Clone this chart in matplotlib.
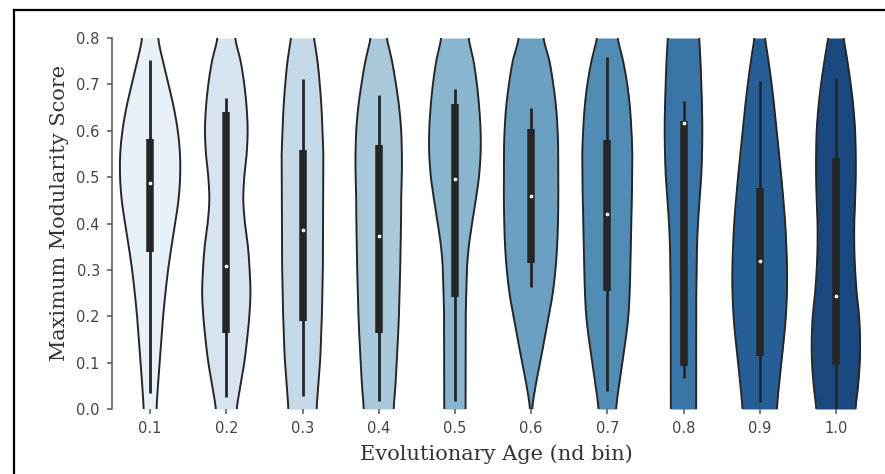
import colorsys
import numpy as np
import matplotlib
matplotlib.use("Agg")
import matplotlib.pyplot as plt
from matplotlib.lines import Line2D

# Age bins and the score levels at which the violin widths were read
age_bins = ["0.1", "0.2", "0.3", "0.4", "0.5", "0.6", "0.7", "0.8", "0.9", "1.0"]
levels = [0.0, 0.05, 0.1, 0.15, 0.2, 0.25, 0.3, 0.35, 0.4,
          0.45, 0.5, 0.55, 0.6, 0.65, 0.7, 0.75, 0.8]

# half-widths of each violin (in units of one category slot) at each level
half_widths = [
    [0.085, 0.103, 0.125, 0.147, 0.171, 0.201, 0.236, 0.280, 0.328, 0.372, 0.394, 0.392, 0.363, 0.311, 0.241, 0.168, 0.107],
    [0.138, 0.186, 0.236, 0.273, 0.302, 0.317, 0.306, 0.284, 0.245, 0.223, 0.236, 0.267, 0.280, 0.267, 0.236, 0.188, 0.118],
    [0.186, 0.208, 0.230, 0.243, 0.254, 0.260, 0.267, 0.267, 0.269, 0.271, 0.273, 0.273, 0.262, 0.249, 0.227, 0.197, 0.153],
    [0.197, 0.219, 0.236, 0.252, 0.265, 0.273, 0.282, 0.287, 0.293, 0.295, 0.304, 0.304, 0.295, 0.269, 0.227, 0.175, 0.109],
    [0.140, 0.140, 0.140, 0.142, 0.142, 0.149, 0.157, 0.182, 0.225, 0.273, 0.315, 0.337, 0.337, 0.319, 0.289, 0.245, 0.182],
    [0.015, 0.059, 0.118, 0.175, 0.232, 0.284, 0.319, 0.341, 0.352, 0.357, 0.357, 0.357, 0.348, 0.328, 0.291, 0.241, 0.164],
    [0.116, 0.153, 0.197, 0.241, 0.276, 0.293, 0.302, 0.308, 0.315, 0.322, 0.326, 0.328, 0.317, 0.297, 0.262, 0.208, 0.138],
    [0.166, 0.166, 0.166, 0.166, 0.166, 0.168, 0.173, 0.177, 0.190, 0.210, 0.232, 0.243, 0.247, 0.243, 0.234, 0.223, 0.206],
    [0.227, 0.252, 0.284, 0.317, 0.343, 0.357, 0.359, 0.350, 0.335, 0.311, 0.284, 0.254, 0.223, 0.192, 0.157, 0.116, 0.072],
    [0.258, 0.291, 0.313, 0.317, 0.304, 0.273, 0.252, 0.241, 0.241, 0.252, 0.260, 0.260, 0.252, 0.230, 0.195, 0.151, 0.103],
]

# box-plot summary per bin: lower whisker, Q1, median, Q3, upper whisker
whisker_low = [0.034, 0.025, 0.027, 0.018, 0.017, 0.264, 0.038, 0.067, 0.016, 0.000]
q1 = [0.338, 0.163, 0.189, 0.163, 0.242, 0.314, 0.255, 0.093, 0.115, 0.095]
medians = [0.487, 0.309, 0.387, 0.372, 0.495, 0.459, 0.421, 0.617, 0.320, 0.244]
q3 = [0.582, 0.640, 0.559, 0.570, 0.658, 0.603, 0.580, 0.620, 0.477, 0.541]
whisker_high = [0.753, 0.670, 0.712, 0.677, 0.690, 0.649, 0.760, 0.665, 0.707, 0.713]


def smooth(y, x, n=12):
    # Catmull-Rom through the read points so the outline is not jagged
    y = np.asarray(y, float)
    x = np.asarray(x, float)
    yp = np.concatenate([[2 * y[0] - y[1]], y, [2 * y[-1] - y[-2]]])
    xp = np.concatenate([[x[0]], x, [x[-1]]])
    out_y, out_x = [], []
    t = np.linspace(0, 1, n, endpoint=False)
    for k in range(1, len(yp) - 2):
        for arr, res in ((yp, out_y), (xp, out_x)):
            p0, p1, p2, p3 = arr[k - 1], arr[k], arr[k + 1], arr[k + 2]
            res.extend(0.5 * (2 * p1 + (-p0 + p2) * t
                              + (2 * p0 - 5 * p1 + 4 * p2 - p3) * t ** 2
                              + (-p0 + 3 * p1 - 3 * p2 + p3) * t ** 3))
    out_y.append(y[-1])
    out_x.append(x[-1])
    return np.array(out_y), np.clip(np.array(out_x), 0, None)


def desat(c, prop=0.75):
    h, l, s = colorsys.rgb_to_hls(*c[:3])
    return colorsys.hls_to_rgb(h, l, s * prop)


cmap = plt.get_cmap("Blues")
colors = [desat(cmap(v)) for v in np.linspace(0, 1, len(age_bins) + 2)[1:-1]]

fig = plt.figure(figsize=(8.85, 4.74), dpi=100)
ax = fig.add_axes([112 / 885, 65 / 474, 762 / 885, 371 / 474])

edge = "#262626"
for i, hw in enumerate(half_widths):
    ys, ws = smooth(levels, hw)
    ax.fill_betweenx(ys, i - ws, i + ws, color=colors[i], lw=0, zorder=1)
    ax.plot(i - ws, ys, color=edge, lw=1.4, zorder=2)
    ax.plot(i + ws, ys, color=edge, lw=1.4, zorder=2)
    ax.plot([i, i], [whisker_low[i], whisker_high[i]], color=edge, lw=2.0,
            solid_capstyle="butt", zorder=3)
    ax.plot([i, i], [q1[i], q3[i]], color=edge, lw=5.4,
            solid_capstyle="butt", zorder=3)
    ax.scatter([i], [medians[i]], s=7, color="white", zorder=4, lw=0)

ax.set_xlim(-0.5, len(age_bins) - 0.5)
ax.set_ylim(0, 0.8)
ax.set_xticks(range(len(age_bins)))
ax.set_xticklabels(age_bins)
ax.set_yticks(np.arange(0, 0.81, 0.1))
ax.set_yticklabels([f"{v:.1f}" for v in np.arange(0, 0.81, 0.1)])

for side in ("top", "right", "bottom"):
    ax.spines[side].set_visible(False)
ax.spines["left"].set_color("#555555")
ax.spines["left"].set_linewidth(1.1)
ax.tick_params(axis="both", colors="#555555", labelcolor="#444444",
               labelsize=10.5, length=3.8, width=1.1, pad=5)

serif = {"family": "DejaVu Serif", "size": 15, "color": "#333333"}
ax.set_xlabel("Evolutionary Age (nd bin)", fontdict=serif)
ax.set_ylabel("Maximum Modularity Score", fontdict=serif)
ax.xaxis.set_label_coords(0.505, -0.095)
ax.yaxis.set_label_coords(-0.056, 0.528)

# black frame around the panel (top and left edges show in the crop)
fig.add_artist(Line2D([14 / 885, 1.0], [1 - 10 / 474, 1 - 10 / 474],
                      color="black", lw=1.6, transform=fig.transFigure))
fig.add_artist(Line2D([14 / 885, 14 / 885], [0.0, 1 - 10 / 474],
                      color="black", lw=1.6, transform=fig.transFigure))

fig.savefig("out.png", dpi=100)
